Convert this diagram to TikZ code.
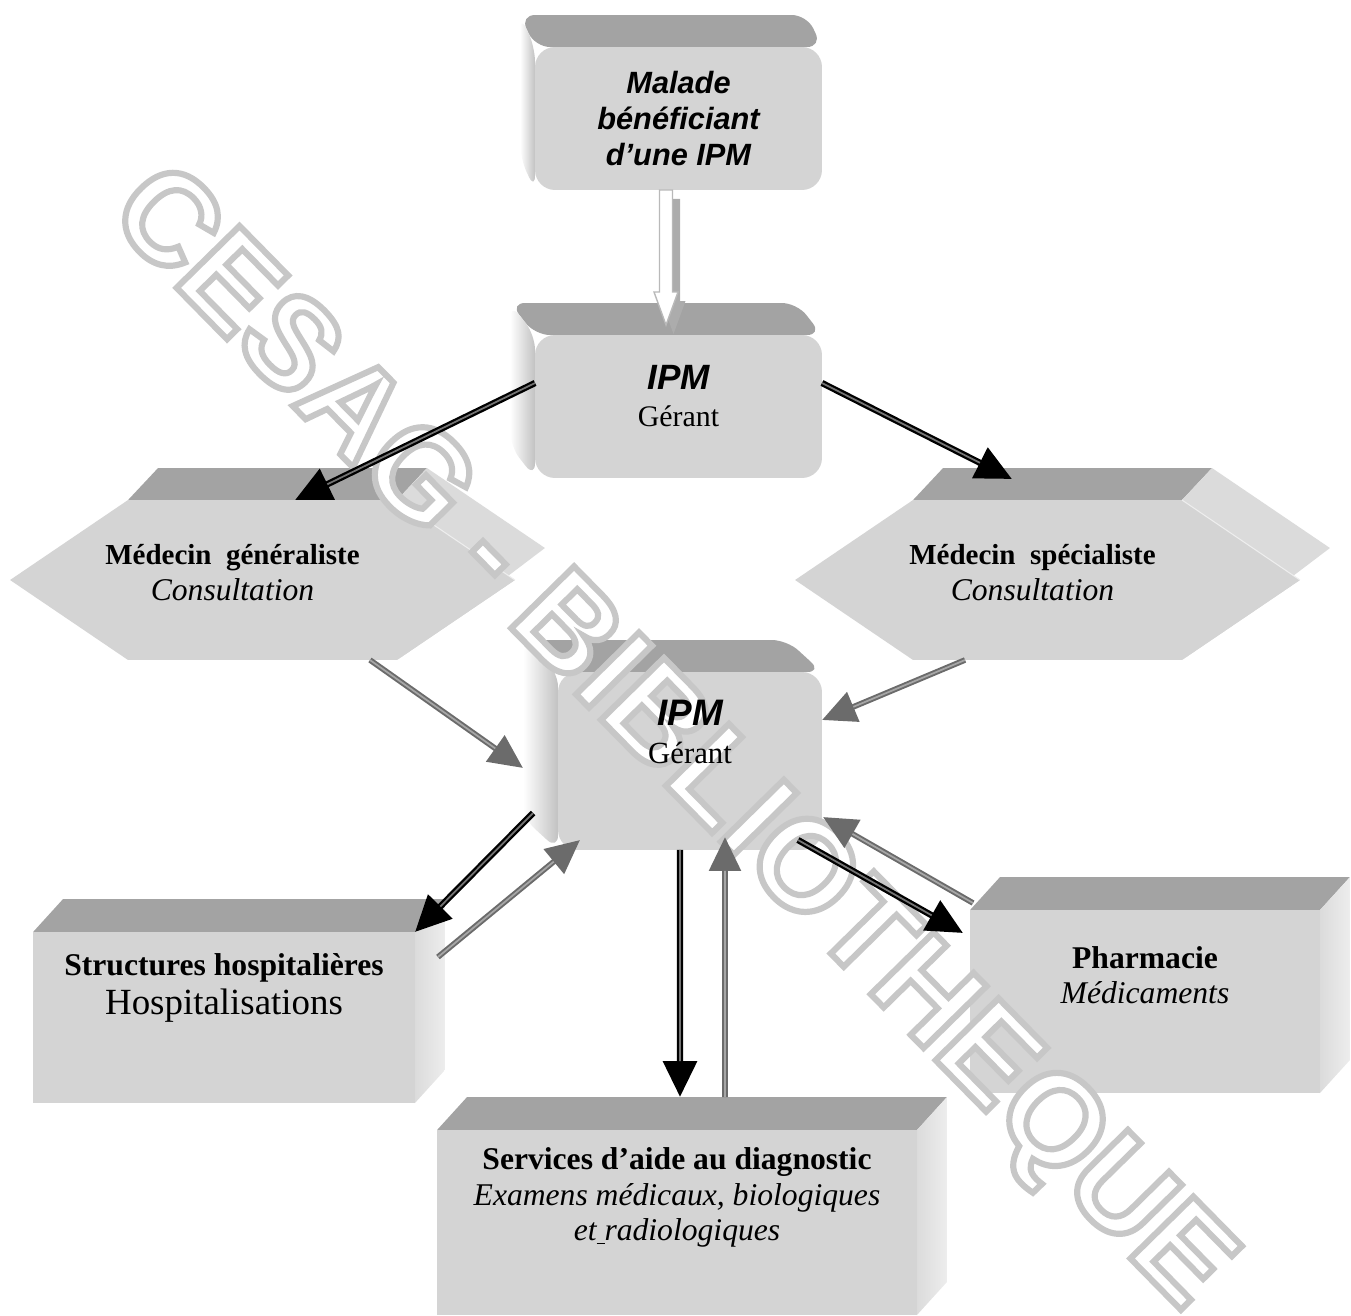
\documentclass[tikz,border=0pt]{standalone}
\usepackage{fontspec}
\setmainfont{Liberation Serif}
\setsansfont{Liberation Sans}
\usetikzlibrary{arrows.meta,positioning}

\definecolor{facegray}{gray}{0.83}
\definecolor{topgray}{gray}{0.64}
\definecolor{sidegray}{gray}{0.76}
\definecolor{hexside}{gray}{0.86}
\definecolor{arrowgray}{gray}{0.42}

% outlined watermark text (stroke + fill)
\newcommand{\outlinetext}[1]{%
  \special{pdf:literal direct 2 Tr 3.5 w 0.78 G}#1\special{pdf:literal direct 0 Tr 1 w}}

% 3D rounded box, depth towards the upper left
\newcommand{\roundbox}[2]{%
  \fill[topgray, rounded corners=0.3cm] ([shift={(-#2,0.64cm)}]#1.north west) -- ([shift={(-#2,0.64cm)}]#1.north east)
    -- (#1.north east) -- (#1.north west) -- cycle;
  \shade[left color=white, right color=sidegray, rounded corners=0.3cm] ([shift={(-#2,0.64cm)}]#1.north west)
    -- ([shift={(-#2,0.64cm)}]#1.south west) -- (#1.south west) -- (#1.north west) -- cycle;
  \fill[facegray, rounded corners=0.4cm] (#1.south west) rectangle (#1.north east);
}
% 3D flat box, depth towards the upper right
\newcommand{\flatbox}[1]{%
  \fill[topgray] (#1.north west) -- (#1.north east) -- ([shift={(0.6cm,0.66cm)}]#1.north east)
    -- ([shift={(0.6cm,0.66cm)}]#1.north west) -- cycle;
  \shade[left color=hexside, right color=white!93!black] (#1.north east) -- ([shift={(0.6cm,0.66cm)}]#1.north east)
    -- ([shift={(0.6cm,0.66cm)}]#1.south east) -- (#1.south east) -- cycle;
  \fill[facegray] (#1.south west) rectangle (#1.north east);
}
% 3D hexagon
\newcommand{\hexbox}[1]{%
  \fill[topgray] ([xshift=2.36cm]#1.north west) -- ([xshift=-2.36cm]#1.north east)
    -- ([shift={(-1.76cm,0.64cm)}]#1.north east) -- ([shift={(2.96cm,0.64cm)}]#1.north west) -- cycle;
  \fill[hexside] ([xshift=-2.36cm]#1.north east) -- ([shift={(-1.76cm,0.64cm)}]#1.north east)
    -- ([shift={(0.6cm,0.64cm)}]#1.east) -- ([xshift=-2.36cm]#1.south east) -- (#1.east) -- cycle;
  \fill[facegray] (#1.west) -- ([xshift=2.36cm]#1.north west) -- ([xshift=-2.36cm]#1.north east)
    -- (#1.east) -- ([xshift=-2.36cm]#1.south east) -- ([xshift=2.36cm]#1.south west) -- cycle;
  \draw[white!60!facegray, line width=0.6pt] ([xshift=-2.36cm]#1.north east) -- (#1.east);
}

\tikzset{
  shapenode/.style={inner sep=0pt, outer sep=0pt},
  boxtext/.style={align=center, text=black, inner sep=0pt},
  blk/.style={draw=black, line width=3.6pt, -{Triangle[length=0.72cm, width=0.66cm]},
    postaction={draw=black!55, line width=1pt, -, shorten >=0.72cm}},
  gry/.style={draw=arrowgray, line width=3.2pt, -{Triangle[length=0.68cm, width=0.62cm]},
    postaction={draw=black!35, line width=1pt, -, shorten >=0.68cm}},
}

\begin{document}
\begin{tikzpicture}[x=0.02cm, y=-0.02cm]
  \useasboundingbox (0,0) rectangle (1351,1315);

  % box positions (front faces)
  \node[shapenode, minimum width=5.74cm, minimum height=2.86cm] (malade) at (678.5,118.5) {};
  \node[shapenode, minimum width=5.74cm, minimum height=2.86cm] (ipmA) at (678.5,406.5) {};
  \node[shapenode, minimum width=10.1cm, minimum height=3.2cm] (medgen) at (262.5,580) {};
  \node[shapenode, minimum width=10.1cm, minimum height=3.2cm] (medspec) at (1047.5,580) {};
  \node[shapenode, minimum width=5.28cm, minimum height=3.56cm] (ipmB) at (690,761) {};
  \node[shapenode, minimum width=7.64cm, minimum height=3.42cm] (hosp) at (224,1017.5) {};
  \node[shapenode, minimum width=7cm, minimum height=3.66cm] (pharma) at (1145,1001.5) {};
  \node[shapenode, minimum width=9.6cm, minimum height=3.7cm] (diag) at (677,1222.5) {};

  \roundbox{malade}{0.3cm}
  \roundbox{ipmA}{0.5cm}
  \roundbox{ipmB}{0.7cm}
  \hexbox{medgen}
  \hexbox{medspec}
  \flatbox{hosp}
  \flatbox{pharma}
  \flatbox{diag}

  % watermark
  \node[rotate=-45.5, text=white, font=\sffamily\bfseries\fontsize{73}{80}\selectfont] (mark) at (668,742)
    {\outlinetext{CESAG - BIBLIOTHEQUE}};

  % hollow arrow
  \coordinate (hs) at ([xshift=-0.25cm]malade.south);
  \coordinate (ht) at ([shift={(-0.25cm,0.2cm)}]ipmA.north);
  \fill[gray!65, transform canvas={shift={(0.15cm,-0.18cm)}}] ([xshift=-0.13cm]hs) -- ([shift={(-0.13cm,0.66cm)}]ht)
    -- ([shift={(-0.24cm,0.66cm)}]ht) -- (ht) -- ([shift={(0.24cm,0.66cm)}]ht)
    -- ([shift={(0.13cm,0.66cm)}]ht) -- ([xshift=0.13cm]hs) -- cycle;
  \draw[gray!55, fill=white, line width=0.8pt] ([xshift=-0.13cm]hs) -- ([shift={(-0.13cm,0.66cm)}]ht)
    -- ([shift={(-0.24cm,0.66cm)}]ht) -- (ht) -- ([shift={(0.24cm,0.66cm)}]ht)
    -- ([shift={(0.13cm,0.66cm)}]ht) -- ([xshift=0.13cm]hs) -- cycle;

  % arrows
  \draw[blk] ([yshift=0.47cm]ipmA.west) -- ([xshift=0.65cm]medgen.north);
  \draw[blk] ([yshift=0.47cm]ipmA.east) -- ([shift={(-0.71cm,0.42cm)}]medspec.north);
  \draw[gry] ([xshift=2.15cm]medgen.south) -- ([shift={(-0.7cm,-0.14cm)}]ipmB.west);
  \draw[gry] ([xshift=-1.65cm]medspec.south) -- ([yshift=0.82cm]ipmB.east);
  \draw[blk] ([shift={(-0.5cm,0.74cm)}]ipmB.south west) -- (hosp.north east);
  \draw[gry] ([shift={(0.46cm,-0.5cm)}]hosp.north east) -- ([shift={(0.44cm,0.2cm)}]ipmB.south west);
  \draw[blk] ([xshift=-0.2cm]ipmB.south) -- ([shift={(0.06cm,0.66cm)}]diag.north);
  \draw[gry] ([shift={(0.96cm,0.66cm)}]diag.north) -- ([shift={(0.7cm,0.26cm)}]ipmB.south);
  \draw[blk] ([shift={(-0.48cm,0.2cm)}]ipmB.south east) -- ([shift={(-0.14cm,-0.46cm)}]pharma.north west);
  \draw[gry] ([shift={(0.06cm,0.14cm)}]pharma.north west) -- ([shift={(0.02cm,0.66cm)}]ipmB.south east);

  % texts
  \node[boxtext, font=\sffamily\bfseries\itshape\fontsize{17.5}{20.7}\selectfont] (maladetxt) at (malade)
    {Malade\\bénéficiant\\d’une IPM};
  \node[boxtext, font=\fontsize{17}{21}\selectfont] (ipmAtxt) at ([yshift=0.21cm]ipmA.center)
    {{\sffamily\bfseries\itshape\fontsize{20}{21}\selectfont IPM}\\Gérant};
  \node[boxtext, font=\fontsize{16.5}{20.5}\selectfont] (medgentxt) at ([shift={(-0.6cm,0.14cm)}]medgen.center)
    {{\bfseries Médecin\ \ généraliste}\\{\itshape\fontsize{18}{20}\selectfont Consultation}};
  \node[boxtext, font=\fontsize{16.5}{20.5}\selectfont] (medspectxt) at ([shift={(-0.3cm,0.14cm)}]medspec.center)
    {{\bfseries Médecin\ \ spécialiste}\\{\itshape\fontsize{18}{20}\selectfont Consultation}};
  \node[boxtext, font=\fontsize{17.5}{22}\selectfont] (ipmBtxt) at ([yshift=0.58cm]ipmB.center)
    {{\sffamily\bfseries\itshape\fontsize{21}{22}\selectfont IPM}\\Gérant};
  \node[boxtext, font=\fontsize{18}{22.5}\selectfont] (hosptxt) at ([yshift=0.59cm]hosp.center)
    {{\bfseries Structures hospitalières}\\{\fontsize{21}{23}\selectfont Hospitalisations}};
  \node[boxtext, font=\fontsize{18}{20}\selectfont] (pharmatxt) at ([yshift=0.53cm]pharma.center)
    {{\bfseries Pharmacie}\\{\itshape Médicaments}};
  \node[boxtext, font=\fontsize{18}{20.2}\selectfont] (diagtxt) at ([yshift=0.5cm]diag.center)
    {{\bfseries Services d’aide au diagnostic}\\{\itshape Examens médicaux, biologiques}\\{\itshape et\underline{\ }radiologiques}};
\end{tikzpicture}
\end{document}
